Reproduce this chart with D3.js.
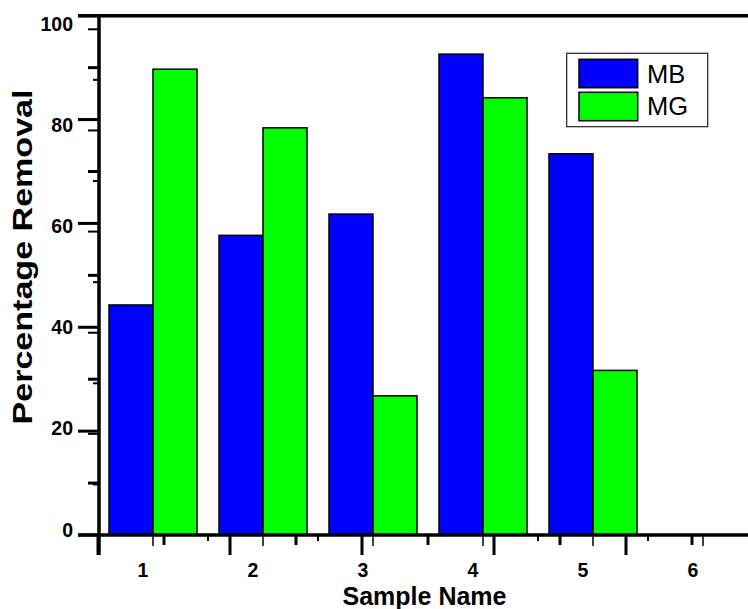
<!DOCTYPE html>
<html>
<head>
<meta charset="utf-8">
<script src="https://cdn.jsdelivr.net/npm/d3@7"></script>
<style>
  html, body { margin: 0; padding: 0; background: #fff; }
  svg { display: block; }
  text { font-family: Arial, "Liberation Sans", sans-serif; }
</style>
</head>
<body>
<svg id="chart" width="748" height="609"></svg>
<script>
// Sample categories and removal percentages
const samples = [1, 2, 3, 4, 5, 6];
const seriesNames = ["MB", "MG"];
const seriesColors = ["#0000ff", "#00ff00"];
const mbValues = [44.3, 57.7, 61.8, 92.6, 73.4, null];
const mgValues = [89.7, 78.4, 26.8, 84.2, 31.7, null];
const yTickValues = [0, 20, 40, 60, 80, 100];
const yMinorValues = [10, 30, 50, 70, 90];

const svg = d3.select("#chart");
const W = 748, H = 609;
const plot = { left: 99, right: 748, top: 15.7, bottom: 535 };

svg.append("rect").attr("width", W).attr("height", H).attr("fill", "#fff");

// Category scale (group centres) and value scale
const x = d3.scaleLinear().domain([0.5, 6.5]).range([98, 758]);
const y = d3.scaleLinear().domain([0, 100]).range([plot.bottom, plot.top]);
// Secondary tick layers of the axes
const xAlt = d3.scaleLinear().domain([0, 5]).range([98, 758]);
const yAlt = d3.scaleLinear().domain([0, 100]).range([plot.bottom, 29.3]);

const barW = x(1.4) - x(1);

// Bars
const rows = samples.map((s, i) => ({ s, vals: [mbValues[i], mgValues[i]] }));
const g = svg.append("g");
rows.forEach(r => {
  r.vals.forEach((v, k) => {
    if (v == null) return;
    const x0 = k === 0 ? x(r.s) - barW : x(r.s);
    g.append("rect")
      .attr("x", x0)
      .attr("y", y(v))
      .attr("width", barW)
      .attr("height", y(0) - y(v))
      .attr("fill", seriesColors[k])
      .attr("stroke", "#000")
      .attr("stroke-width", 1.5);
  });
});

// Axis lines and top frame
const ax = svg.append("g").attr("stroke", "#000").attr("fill", "none");
ax.append("line").attr("x1", 78).attr("x2", W).attr("y1", plot.top).attr("y2", plot.top).attr("stroke-width", 3.5);
ax.append("line").attr("x1", 78).attr("x2", W).attr("y1", plot.bottom).attr("y2", plot.bottom).attr("stroke-width", 3.5);
ax.append("line").attr("x1", plot.left).attr("x2", plot.left).attr("y1", plot.top).attr("y2", 555).attr("stroke-width", 3.5);

// Y ticks: labelled layer
yTickValues.forEach(v => {
  ax.append("line").attr("x1", 78).attr("x2", plot.left).attr("y1", y(v)).attr("y2", y(v)).attr("stroke-width", 3);
});
yMinorValues.forEach(v => {
  ax.append("line").attr("x1", 88).attr("x2", plot.left).attr("y1", y(v)).attr("y2", y(v)).attr("stroke-width", 3);
});
// Y ticks: secondary layer
yAlt.ticks(10).forEach(v => {
  const len = (v % 20 === 0) ? 11 : 6;
  ax.append("line").attr("x1", plot.left - len).attr("x2", plot.left).attr("y1", yAlt(v)).attr("y2", yAlt(v)).attr("stroke-width", 2);
});

// X ticks: secondary layer (long and medium)
d3.range(0, 5).forEach(v => {
  ax.append("line").attr("x1", xAlt(v)).attr("x2", xAlt(v)).attr("y1", plot.bottom).attr("y2", 555).attr("stroke-width", 3);
});
d3.range(0.5, 5, 1).forEach(v => {
  ax.append("line").attr("x1", xAlt(v)).attr("x2", xAlt(v)).attr("y1", plot.bottom).attr("y2", 545).attr("stroke-width", 3);
});
// X ticks: category layer
samples.forEach(s => {
  ax.append("line").attr("x1", x(s)).attr("x2", x(s)).attr("y1", plot.bottom).attr("y2", 546).attr("stroke-width", 1.5);
});
samples.slice(0, -1).forEach(s => {
  ax.append("line").attr("x1", x(s + 0.5)).attr("x2", x(s + 0.5)).attr("y1", plot.bottom).attr("y2", 541).attr("stroke-width", 2);
});

// Tick labels
svg.append("g").selectAll("text").data(yTickValues).join("text")
  .attr("x", 73).attr("y", d => yAlt(d) + 1.5)
  .attr("text-anchor", "end")
  .attr("font-size", 19.5).attr("font-weight", "bold")
  .text(d => d);

svg.append("g").selectAll("text").data(samples).join("text")
  .attr("x", d => x(d) - 10).attr("y", 577)
  .attr("text-anchor", "middle")
  .attr("font-size", 19.5).attr("font-weight", "bold")
  .text(d => d);

// Axis titles
svg.append("text")
  .attr("x", 424.5).attr("y", 605)
  .attr("text-anchor", "middle")
  .attr("font-size", 25).attr("font-weight", "bold")
  .text("Sample Name");

svg.append("text")
  .attr("transform", "translate(32,257) rotate(-90)")
  .attr("text-anchor", "middle")
  .attr("font-size", 27.5).attr("font-weight", "bold")
  .attr("textLength", 335).attr("lengthAdjust", "spacingAndGlyphs")
  .text("Percentage Removal");

// Legend
const lg = svg.append("g");
lg.append("rect").attr("x", 566.7).attr("y", 53.3).attr("width", 141).attr("height", 73.4)
  .attr("fill", "#fff").attr("stroke", "#222").attr("stroke-width", 1.2);
seriesNames.forEach((name, k) => {
  lg.append("rect").attr("x", 579).attr("y", 59.3 + k * 33).attr("width", 58.7).attr("height", 28.4)
    .attr("fill", seriesColors[k]).attr("stroke", "#000").attr("stroke-width", 1.5);
  lg.append("text").attr("x", 647).attr("y", 82.7 + k * 32.3)
    .attr("font-size", 25.5).text(name);
});
</script>
</body>
</html>
